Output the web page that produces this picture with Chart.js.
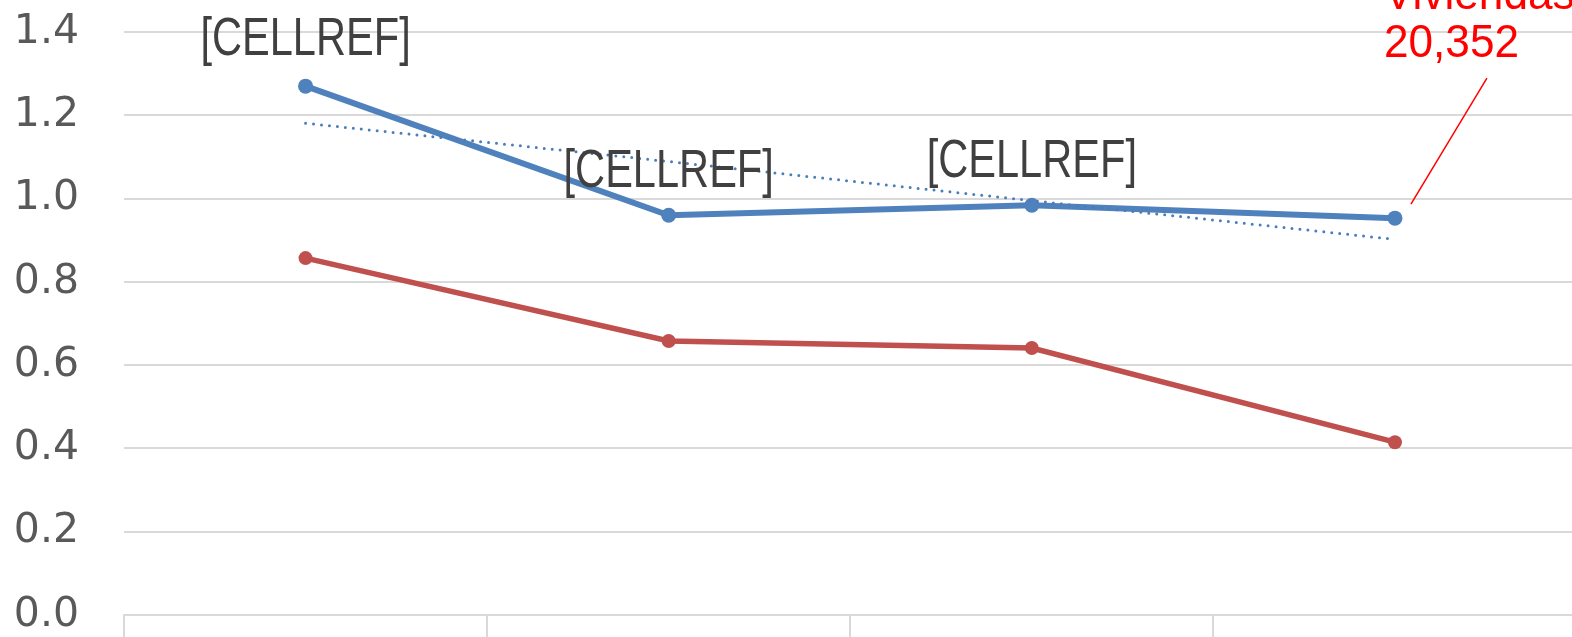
<!DOCTYPE html>
<html>
<head>
<meta charset="utf-8">
<script src="https://cdn.jsdelivr.net/npm/chart.js@4"></script>
<style>
  html, body { margin: 0; padding: 0; background: #fff; overflow: hidden; }
  #wrap { width: 1572px; height: 637px; overflow: hidden; }
</style>
</head>
<body>
<!-- canvas a little wider than the window: the plot runs off the right edge like the original -->
<div id="wrap"><canvas id="lineChart" width="1584" height="637"></canvas></div>
<script>
const years = ["2010", "2012", "2014", "2016"];
const blueValues = [1.27, 0.96, 0.984, 0.953];
const redValues = [0.857, 0.658, 0.641, 0.415];
// dotted trend line as drawn in the picture
const trendValues = [1.181, 1.089, 0.995, 0.902];
const pointLabels = ["[CELLREF]", "[CELLREF]", "[CELLREF]", null];
const calloutLines = ["Viviendas:", "20,352"];

// narrow text: squeeze a normal sans horizontally
function narrowText(ctx, txt, x, y, sx) {
  ctx.save();
  ctx.translate(x, y);
  ctx.scale(sx, 1);
  ctx.fillText(txt, 0, 0);
  ctx.restore();
}

const labelPlugin = {
  id: "cellLabels",
  afterDatasetsDraw(chart) {
    const ctx = chart.ctx;
    const meta = chart.getDatasetMeta(1);
    ctx.save();
    ctx.fillStyle = "#404040";
    ctx.font = "54px 'Liberation Sans'";
    ctx.textAlign = "center";
    ctx.textBaseline = "middle";
    const dys = [-46, -43, -43];
    pointLabels.forEach((txt, i) => {
      if (!txt) return;
      const p = meta.data[i];
      narrowText(ctx, txt, p.x, p.y + dys[i], 0.77);
    });

    // red callout on the last point
    const last = meta.data[meta.data.length - 1];
    ctx.strokeStyle = "#ff0000";
    ctx.lineWidth = 1.5;
    ctx.beginPath();
    ctx.moveTo(last.x + 16, last.y - 14);
    ctx.lineTo(last.x + 92, last.y - 140);
    ctx.stroke();
    ctx.fillStyle = "#ff0000";
    ctx.font = "46px 'Liberation Sans'";
    ctx.textAlign = "left";
    narrowText(ctx, calloutLines[0], last.x - 11, last.y - 222, 0.96);
    narrowText(ctx, calloutLines[1], last.x - 11, last.y - 174, 0.96);
    ctx.restore();
  },
};

let ctx = document.getElementById("lineChart").getContext("2d");

new Chart(ctx, {
  type: "line",
  data: {
    labels: years,
    datasets: [
      {
        data: trendValues,
        borderColor: "#4a7ebb",
        borderWidth: 3,
        borderDash: [0, 8],
        borderCapStyle: "round",
        pointRadius: 0,
        tension: 0,
        order: 0,
      },
      {
        data: blueValues,
        borderColor: "#4f81bd",
        backgroundColor: "#4f81bd",
        borderWidth: 6,
        pointRadius: 7.5,
        pointBorderWidth: 0,
        tension: 0,
        order: 1,
      },
      {
        data: redValues,
        borderColor: "#c0504d",
        backgroundColor: "#c0504d",
        borderWidth: 5.5,
        pointRadius: 7,
        pointBorderWidth: 0,
        tension: 0,
        order: 2,
      },
    ],
  },
  options: {
    responsive: false,
    animation: false,
    layout: {
      padding: { top: 32, right: 0, bottom: 0, left: 0 },
    },
    plugins: {
      legend: { display: false },
      tooltip: { enabled: false },
    },
    scales: {
      x: {
        offset: true,
        afterFit: (scale) => {
          scale.height = 22;
          scale.paddingLeft = 0;
          scale.paddingRight = 0;
        },
        grid: {
          offset: true,
          drawOnChartArea: false,
          drawTicks: true,
          tickLength: 22,
          color: "#d9d9d9",
          lineWidth: 2,
        },
        border: { color: "#d9d9d9", width: 2 },
        ticks: {
          color: "#595959",
          font: { family: "DejaVu Sans", size: 41 },
          padding: -4,
          maxRotation: 0,
        },
      },
      y: {
        min: 0,
        max: 1.4,
        afterFit: (scale) => {
          scale.width = 124;
          scale.paddingTop = 0;
          scale.paddingBottom = 0;
        },
        grid: {
          color: "#d9d9d9",
          lineWidth: 2,
          drawTicks: false,
        },
        border: { display: false },
        ticks: {
          stepSize: 0.2,
          padding: 45,
          color: "#595959",
          font: { family: "DejaVu Sans", size: 41 },
          callback: (v) => v.toFixed(1),
        },
      },
    },
  },
  plugins: [labelPlugin],
});
</script>
</body>
</html>
